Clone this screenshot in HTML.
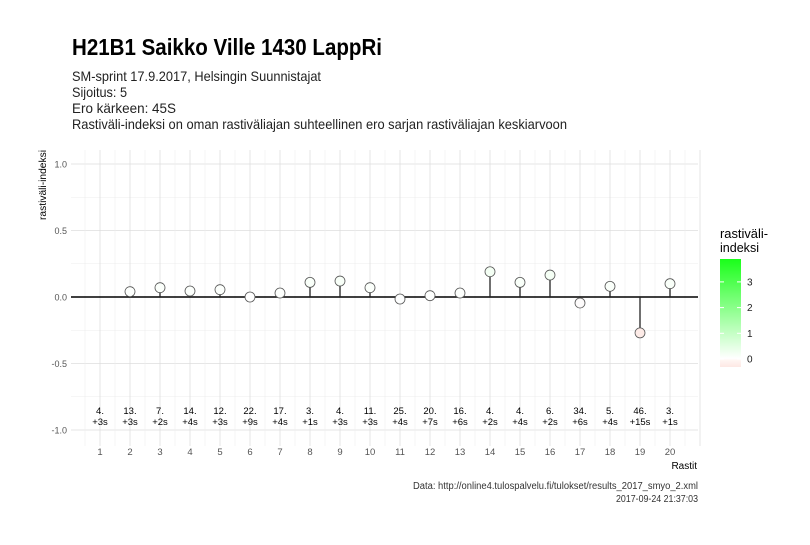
<!DOCTYPE html>
<html><head><meta charset="utf-8"><style>
body{margin:0;background:#fff;}
svg text{font-family:"Liberation Sans Narrow","Liberation Sans",sans-serif;}
</style></head><body>
<svg id="c" width="810" height="540" xmlns="http://www.w3.org/2000/svg">
<defs><linearGradient id="lg" x1="0" y1="1" x2="0" y2="0">
<stop offset="0" stop-color="#fde8e4"/><stop offset="0.06" stop-color="#fff5f2"/><stop offset="0.08" stop-color="#ffffff"/><stop offset="1" stop-color="#1aff1a"/></linearGradient></defs>
<text x="72" y="55" font-size="23" font-weight="bold" fill="#000" textLength="310" lengthAdjust="spacingAndGlyphs">H21B1 Saikko Ville 1430 LappRi</text>
<g font-size="14" fill="#222">
<text x="72" y="81" textLength="249" lengthAdjust="spacingAndGlyphs">SM-sprint 17.9.2017, Helsingin Suunnistajat</text>
<text x="72" y="97" textLength="55" lengthAdjust="spacingAndGlyphs">Sijoitus: 5</text>
<text x="72" y="113" textLength="104" lengthAdjust="spacingAndGlyphs">Ero kärkeen: 45S</text>
<text x="72" y="129" textLength="495" lengthAdjust="spacingAndGlyphs">Rastiväli-indeksi on oman rastiväliajan suhteellinen ero sarjan rastiväliajan keskiarvoon</text>
</g>
<g id="grid"></g>
<g id="marks"></g>
<text transform="translate(46,150) rotate(-90)" font-size="10" text-anchor="end" fill="#000" textLength="70" lengthAdjust="spacingAndGlyphs">rastiväli-indeksi</text>
<text x="697" y="469" font-size="10" text-anchor="end" fill="#000">Rastit</text>
<g>
<text x="720" y="238" font-size="13" fill="#000" textLength="48" lengthAdjust="spacingAndGlyphs">rastiväli-</text>
<text x="720" y="252" font-size="13" fill="#000" textLength="39" lengthAdjust="spacingAndGlyphs">indeksi</text>
<rect x="720" y="259" width="21" height="108" fill="url(#lg)"/>
<g id="legticks"></g>
</g>
<text x="698" y="489" font-size="10" text-anchor="end" fill="#333" textLength="285" lengthAdjust="spacingAndGlyphs">Data: http://online4.tulospalvelu.fi/tulokset/results_2017_smyo_2.xml</text>
<text x="698" y="502" font-size="10" text-anchor="end" fill="#333" textLength="82" lengthAdjust="spacingAndGlyphs">2017-09-24 21:37:03</text>
</svg>
<script>
const controls=[1,2,3,4,5,6,7,8,9,10,11,12,13,14,15,16,17,18,19,20];
const indexValues=[null,0.04,0.07,0.045,0.055,0,0.03,0.11,0.12,0.07,-0.015,0.01,0.03,0.19,0.11,0.165,-0.045,0.08,-0.27,0.1];
const positions=["4.","13.","7.","14.","12.","22.","17.","3.","4.","11.","25.","20.","16.","4.","4.","6.","34.","5.","46.","3."];
const diffs=["+3s","+3s","+2s","+4s","+3s","+9s","+4s","+1s","+3s","+3s","+4s","+7s","+6s","+2s","+4s","+2s","+6s","+4s","+15s","+1s"];
const yTicks=[-1,-0.5,0,0.5,1];
const yTickLabels=["-1.0","-0.5","0.0","0.5","1.0"];
const legendTicks=[0,1,2,3];
const NS="http://www.w3.org/2000/svg";
const L=71,R=698,T=150,B=446;
const x=v=>100+(v-1)*30;
const y=v=>297-v*133;
const ly=v=>359-v*25.7;
function mk(p,t,a){const e=document.createElementNS(NS,t);for(const k in a)e.setAttribute(k,a[k]);p.appendChild(e);return e;}
const g=document.getElementById('grid');
for(let v=-1;v<=1.001;v+=0.25){const mj=Math.abs(v*2-Math.round(v*2))<1e-6;
 const l=mk(g,'line',{x1:L,x2:R,y1:y(v),y2:y(v),stroke:mj?'#dedede':'#ececec','stroke-width':mj?0.8:0.5});
 
 }
for(let v=0.5;v<=21;v+=0.5){const mj=Number.isInteger(v);
 const l=mk(g,'line',{x1:x(v),x2:x(v),y1:T,y2:B,stroke:mj?'#dedede':'#ececec','stroke-width':mj?0.8:0.5});
 
 }
yTicks.forEach((v,i)=>{const t=mk(g,'text',{x:67,y:y(v)+3.5,'font-size':9,'text-anchor':'end',fill:'#555'});t.textContent=yTickLabels[i];
 
 });
controls.forEach(c=>{const t=mk(g,'text',{x:x(c),y:455,'font-size':9.5,'text-anchor':'middle',fill:'#555'});t.textContent=c;
 
 });
const m=document.getElementById('marks');
const base=mk(m,'line',{x1:L,x2:R,y1:y(0),y2:y(0),stroke:'#000','stroke-width':1.5});


function fillFor(v){if(v<0){const a=Math.min(1,-v/0.25);return `rgb(253,${Math.round(255-20*a)},${Math.round(255-24*a)})`;}
 const a=Math.min(1,v/3.9);return `rgb(${Math.round(255-229*a)},255,${Math.round(255-229*a)})`;}
controls.forEach((c,i)=>{const v=indexValues[i];
 if(v!==null){
 const s=mk(m,'line',{x1:x(c),x2:x(c),y1:y(0),y2:y(v),stroke:'#222','stroke-width':1.3});
 
 
 const p=mk(m,'circle',{cx:x(c),cy:y(v),r:5,fill:fillFor(v),stroke:'#555','stroke-width':0.8});
 
 }
 const t1=mk(m,'text',{x:x(c),y:414,'font-size':9.5,'text-anchor':'middle',fill:'#000'});t1.textContent=positions[i];
 
 
 const t2=mk(m,'text',{x:x(c),y:425,'font-size':9.5,'text-anchor':'middle',fill:'#000'});t2.textContent=diffs[i];
 
 });
const lt=document.getElementById('legticks');
legendTicks.forEach(v=>{mk(lt,'line',{x1:720,x2:724,y1:ly(v),y2:ly(v),stroke:'#fff'});mk(lt,'line',{x1:737,x2:741,y1:ly(v),y2:ly(v),stroke:'#fff'});
 const t=mk(lt,'text',{x:747,y:ly(v)+3.5,'font-size':10,fill:'#222'});t.textContent=v;
 
 });
</script>
</body></html>
